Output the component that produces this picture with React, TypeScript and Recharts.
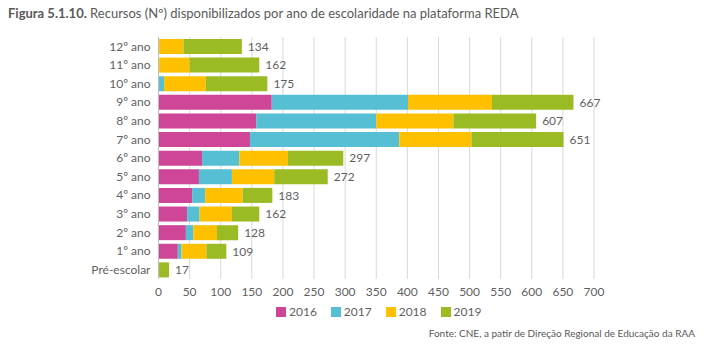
import React from 'react';
import { BarChart, Bar, XAxis, YAxis, CartesianGrid, LabelList } from 'recharts';

const categories = ['12º ano', '11º ano', '10º ano', '9º ano', '8º ano', '7º ano', '6º ano', '5º ano', '4º ano', '3º ano', '2º ano', '1º ano', 'Pré-escolar'];
const s2016 = [1, 1, 0, 182, 157, 147, 70, 65, 54, 46, 44, 31, 0];
const s2017 = [0, 0, 9, 219, 193, 240, 60, 53, 21, 20, 12, 6, 0];
const s2018 = [39, 49, 67, 135, 124, 116, 78, 68, 60, 52, 38, 40, 0];
const s2019 = [94, 112, 99, 131, 133, 148, 89, 86, 48, 44, 34, 32, 17];
const totals = [134, 162, 175, 667, 607, 651, 297, 272, 183, 162, 128, 109, 17];
const xTicks = [0, 50, 100, 150, 200, 250, 300, 350, 400, 450, 500, 550, 600, 650, 700];

const series = [
  { key: 'y2016', name: '2016', color: '#CF4597' },
  { key: 'y2017', name: '2017', color: '#57BFD3' },
  { key: 'y2018', name: '2018', color: '#FFC000' },
  { key: 'y2019', name: '2019', color: '#9BBB24' },
];

const data = categories.map((name, i) => ({
  name,
  y2016: s2016[i],
  y2017: s2017[i],
  y2018: s2018[i],
  y2019: s2019[i],
  total: totals[i],
}));

const FONT = 'Lato, "Open Sans", sans-serif';
const GREY = '#5F5F5F';

const App: React.FC = () => {
  return (
    <div style={{ position: 'absolute', left: 0, top: 0, width: 707, height: 355, background: '#fff', fontFamily: FONT }}>
      <div style={{ position: 'absolute', left: 8, top: 5, fontSize: 13, color: '#595959', whiteSpace: 'nowrap' }}>
        <b>Figura 5.1.10.</b> Recursos (Nº) disponibilizados por ano de escolaridade na plataforma REDA
      </div>
      <BarChart
        width={707}
        height={355}
        data={data}
        layout="vertical"
        margin={{ top: 37, right: 113, left: 0, bottom: 56 }}
        barSize={15}
      >
        <CartesianGrid horizontal={false} stroke="#D9D9D9" />
        <XAxis
          type="number"
          domain={[0, 700]}
          ticks={xTicks}
          interval={0}
          height={20}
          tickLine={false}
          axisLine={false}
          tick={{ fill: GREY, fontSize: 12, fontFamily: FONT }}
        />
        <YAxis
          type="category"
          dataKey="name"
          width={158.5}
          interval={0}
          tickLine={false}
          axisLine={{ stroke: '#BFBFBF' }}
          tick={{ fill: GREY, fontSize: 12, fontFamily: FONT }}
        />
        {series.map((s) => (
          <Bar key={s.key} dataKey={s.key} name={s.name} stackId="a" fill={s.color} isAnimationActive={false}>
            {s.key === 'y2019' && (
              <LabelList dataKey="total" position="right" offset={6} fill={GREY} fontSize={12} fontFamily={FONT} />
            )}
          </Bar>
        ))}
      </BarChart>
      <div style={{ position: 'absolute', left: 276, top: 304, display: 'flex', fontSize: 12, color: GREY }}>
        {series.map((s) => (
          <div key={s.key} style={{ display: 'flex', alignItems: 'center', marginRight: 14 }}>
            <span style={{ display: 'inline-block', width: 10, height: 10, background: s.color, marginRight: 3 }} />
            <span>{s.name}</span>
          </div>
        ))}
      </div>
      <div style={{ position: 'absolute', right: 12, top: 327, fontSize: 10, color: '#595959', whiteSpace: 'nowrap' }}>
        Fonte: CNE, a patir de Direção Regional de Educação da RAA
      </div>
    </div>
  );
};

export default App;
